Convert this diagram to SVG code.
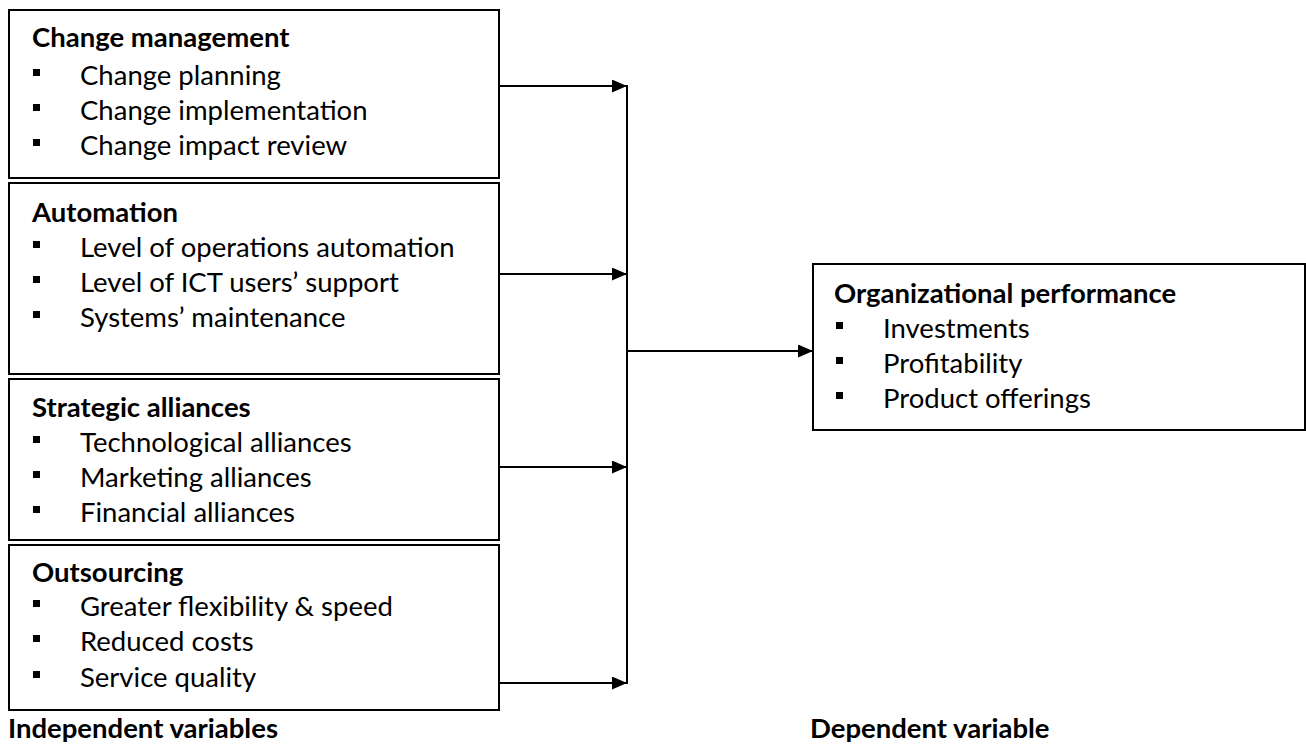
<svg xmlns="http://www.w3.org/2000/svg" width="1306" height="749" viewBox="0 0 1306 749">
<style>
.box{fill:#fff;stroke:#000;stroke-width:2}
.t{font-family:Lato,"Liberation Sans",sans-serif;font-size:27.5px;fill:#000}
.b{font-weight:bold}
.bul{fill:#000}
.c{stroke:#000;stroke-width:2;fill:none}
</style>
<defs>
<marker id="ah" markerWidth="15" markerHeight="13" refX="15" refY="6.5" orient="auto" markerUnits="userSpaceOnUse">
<path d="M0,0 L15,6.5 L0,13 Z" fill="#000"/>
</marker>
<rect id="sq" width="7" height="7" class="bul"/>
</defs>
<rect width="1306" height="749" fill="#fff"/>
<g id="n1">
<rect class="box" x="9" y="10" width="490" height="168"/>
<text class="t b" x="32" y="47">Change management</text>
<use href="#sq" x="33" y="69"/><text class="t" x="80" y="85">Change planning</text>
<use href="#sq" x="33" y="104"/><text class="t" x="80" y="120">Change implementation</text>
<use href="#sq" x="33" y="139"/><text class="t" x="80" y="155">Change impact review</text>
</g>
<g id="n2">
<rect class="box" x="9" y="183" width="490" height="191"/>
<text class="t b" x="32" y="222">Automation</text>
<use href="#sq" x="33" y="241"/><text class="t" x="80" y="257">Level of operations automation</text>
<use href="#sq" x="33" y="276"/><text class="t" x="80" y="292">Level of ICT users’ support</text>
<use href="#sq" x="33" y="311"/><text class="t" x="80" y="327">Systems’ maintenance</text>
</g>
<g id="n3">
<rect class="box" x="9" y="379" width="490" height="161"/>
<text class="t b" x="32" y="417">Strategic alliances</text>
<use href="#sq" x="33" y="436"/><text class="t" x="80" y="452">Technological alliances</text>
<use href="#sq" x="33" y="471"/><text class="t" x="80" y="487">Marketing alliances</text>
<use href="#sq" x="33" y="506"/><text class="t" x="80" y="522">Financial alliances</text>
</g>
<g id="n4">
<rect class="box" x="9" y="545" width="490" height="165"/>
<text class="t b" x="32" y="582">Outsourcing</text>
<use href="#sq" x="33" y="600"/><text class="t" x="80" y="616">Greater flexibility &amp; speed</text>
<use href="#sq" x="33" y="635"/><text class="t" x="80" y="651">Reduced costs</text>
<use href="#sq" x="33" y="671"/><text class="t" x="80" y="687">Service quality</text>
</g>
<g id="n5">
<rect class="box" x="813" y="264" width="492" height="166"/>
<text class="t b" x="834" y="303">Organizational performance</text>
<use href="#sq" x="836" y="322"/><text class="t" x="883" y="338">Investments</text>
<use href="#sq" x="836" y="357"/><text class="t" x="883" y="373">Profitability</text>
<use href="#sq" x="836" y="392"/><text class="t" x="883" y="408">Product offerings</text>
</g>
<g id="labels">
<text class="t b" x="8" y="738">Independent variables</text>
<text class="t b" x="810" y="738">Dependent variable</text>
</g>
<g id="connectors">
<line class="c" x1="627" y1="85" x2="627" y2="684"/>
<line class="c" x1="499" y1="86" x2="627" y2="86" marker-end="url(#ah)"/>
<line class="c" x1="499" y1="274" x2="627" y2="274" marker-end="url(#ah)"/>
<line class="c" x1="499" y1="467" x2="627" y2="467" marker-end="url(#ah)"/>
<line class="c" x1="499" y1="683" x2="627" y2="683" marker-end="url(#ah)"/>
<line class="c" x1="627" y1="351" x2="813" y2="351" marker-end="url(#ah)"/>
</g>
</svg>
